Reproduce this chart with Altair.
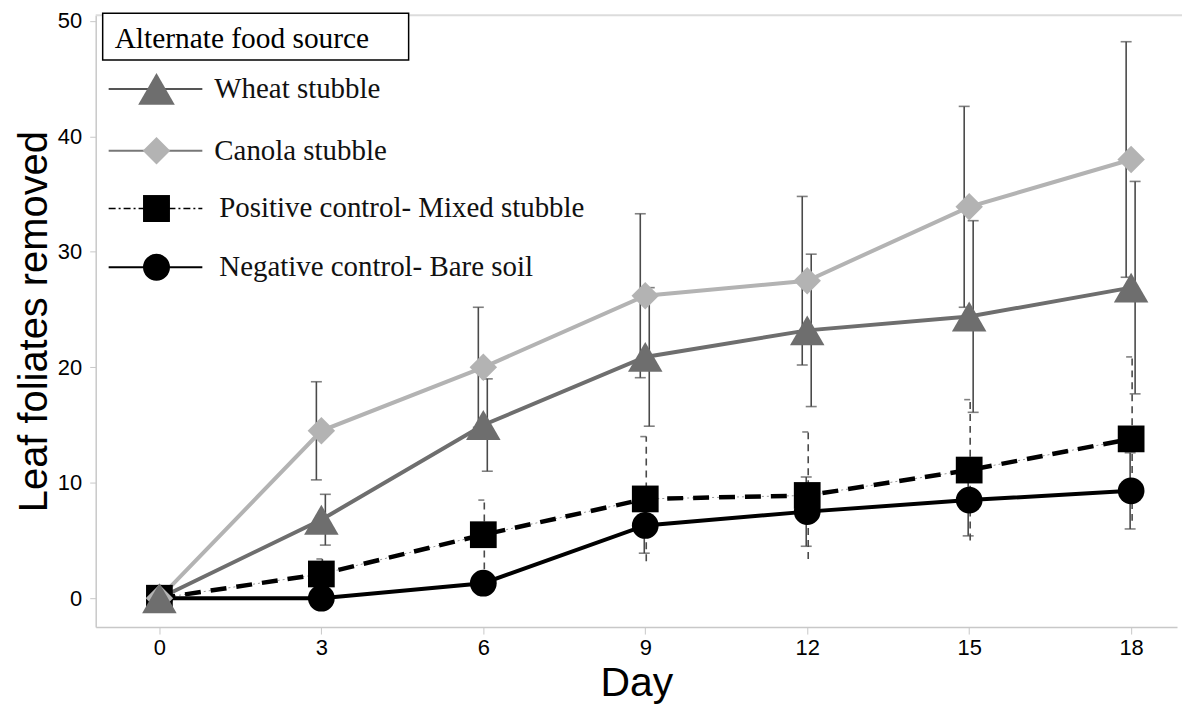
import altair as alt
import pandas as pd

days = [0, 3, 6, 9, 12, 15, 18]
series_names = ["Wheat stubble", "Canola stubble",
                "Positive control- Mixed stubble", "Negative control- Bare soil"]
wheat_mean = [0, 6.8, 15.0, 20.9, 23.2, 24.4, 26.9]
wheat_err = [0, 2.2, 4.0, 6.0, 6.6, 8.3, 9.2]
canola_mean = [0, 14.5, 20.0, 26.2, 27.5, 33.9, 38.0]
canola_err = [0, 4.25, 5.2, 7.1, 7.3, 8.7, 10.2]
pos_mean = [0, 2.1, 5.5, 8.6, 8.9, 11.1, 13.8]
pos_err = [0, 1.3, 3.0, 5.4, 5.5, 6.1, 7.1]
neg_mean = [0, 0, 1.3, 6.3, 7.5, 8.5, 9.3]
neg_err = [0, 0, 1.0, 2.4, 3.0, 3.1, 3.3]
y_ticks = [0, 10, 20, 30, 40, 50]
legend_title = "Alternate food source"
x_title = "Day"
y_title = "Leaf foliates removed"

means = [wheat_mean, canola_mean, pos_mean, neg_mean]
errs = [wheat_err, canola_err, pos_err, neg_err]
rows = []
for name, m, e in zip(series_names, means, errs):
    for d, mv, ev in zip(days, m, e):
        rows.append({"series": name, "day": d, "mean": mv, "err": ev,
                     "lo": mv - ev, "hi": mv + ev})
df = pd.DataFrame(rows)

W, H = 1085, 614
FONT = "Liberation Sans"
SERIF = "Liberation Serif"

xs = alt.Scale(domain=[-1.18, 18.85], nice=False, zero=False)
ys = alt.Scale(domain=[-2.5, 50.5], nice=False, zero=False)

X_AX = alt.Axis(values=days, grid=False, domainColor="#c8c8c8", domainWidth=1.5,
                tickColor="#c8c8c8", tickSize=7, labelPadding=4,
                labelFont=FONT, labelFontSize=22, labelColor="#000",
                titleFont=FONT, titleFontSize=41, titleFontWeight="normal",
                titleColor="#000", titlePadding=5)
Y_AX = alt.Axis(values=y_ticks, grid=False, domainColor="#c8c8c8", domainWidth=1.5,
                tickColor="#c8c8c8", tickSize=6, labelPadding=8,
                labelFont=FONT, labelFontSize=22, labelColor="#000",
                titleFont=FONT, titleFontSize=40, titleFontWeight="normal",
                titleColor="#000", titlePadding=3)

base = alt.Chart(df)


def sub(name):
    return base.transform_filter(alt.datum.series == name)


X = alt.X("day:Q", scale=xs, axis=X_AX, title=x_title)
Y = alt.Y("mean:Q", scale=ys, axis=Y_AX, title=y_title)
YLO = alt.Y("lo:Q", scale=ys, axis=Y_AX, title=y_title)
YHI = alt.Y("hi:Q", scale=ys, axis=Y_AX, title=y_title)

top_line = alt.Chart(pd.DataFrame({"a": [0]})).mark_rule(color="#dcdcdc", strokeWidth=2).encode(
    x=alt.value(0), x2=alt.value(W + 10), y=alt.value(0))

ERRC = "#4a4a4a"


def solid_err(name, off):
    s = sub(name).transform_filter(alt.datum.err > 0)
    r = s.mark_rule(color=ERRC, strokeWidth=1.6, xOffset=off).encode(
        x=X, y=YLO, y2="hi:Q")
    t1 = s.mark_tick(color=ERRC, thickness=1.6, size=11, orient="horizontal", xOffset=off).encode(
        x=X, y=YLO)
    t2 = s.mark_tick(color=ERRC, thickness=1.6, size=11, orient="horizontal", xOffset=off).encode(
        x=X, y=YHI)
    return [r, t1, t2]


def dashed_err(name, off):
    s = sub(name).transform_filter(alt.datum.err > 0)
    r = s.mark_rule(color=ERRC, strokeWidth=1.6, strokeDash=[7, 5], xOffset=off).encode(
        x=X, y=YLO, y2="hi:Q")
    t = s.mark_tick(color=ERRC, thickness=1.6, size=6, orient="horizontal", xOffset=off - 3).encode(
        x=X, y=YHI)
    return [r, t]


errs_layers = (solid_err(series_names[0], 4) + solid_err(series_names[1], -5)
               + dashed_err(series_names[2], 1) + solid_err(series_names[3], -1))

WHEAT_C = "#6e6e6e"
CANOLA_C = "#b3b3b3"

line_canola = sub(series_names[1]).mark_line(color=CANOLA_C, strokeWidth=4).encode(x=X, y=Y)
line_wheat = sub(series_names[0]).mark_line(color=WHEAT_C, strokeWidth=4).encode(x=X, y=Y)
line_pos_dot = sub(series_names[2]).mark_line(color="#999", strokeWidth=1, strokeDash=[2, 3]).encode(x=X, y=Y)
line_pos = sub(series_names[2]).mark_line(color="#000", strokeWidth=4.5, strokeDash=[16, 10]).encode(x=X, y=Y)
line_neg = sub(series_names[3]).mark_line(color="#000", strokeWidth=4).encode(x=X, y=Y)

pt_neg = sub(series_names[3]).mark_point(shape="circle", filled=True, color="#000", size=720, opacity=1).encode(x=X, y=Y)
pt_pos = sub(series_names[2]).mark_point(shape="square", filled=True, color="#000", size=720, opacity=1).encode(x=X, y=Y)
pt_canola = sub(series_names[1]).mark_point(shape="diamond", filled=True, color=CANOLA_C, size=760, opacity=1).encode(x=X, y=Y)
pt_wheat = sub(series_names[0]).mark_point(shape="triangle-up", filled=True, color=WHEAT_C, size=1200, opacity=1).encode(x=X, y=Y)

# Legend (decoration in pixel space)
one = pd.DataFrame({"a": [0]})
leg_box = alt.Chart(one).mark_rect(fill="white", stroke="#000", strokeWidth=1.5).encode(
    x=alt.value(7), x2=alt.value(314), y=alt.value(-2), y2=alt.value(45))
leg_title = alt.Chart(one).mark_text(text=legend_title, font=SERIF, fontSize=29.5, align="left",
                                     baseline="alphabetic", color="#000").encode(
    x=alt.value(19), y=alt.value(33))

leg_y = [74, 136, 194, 253]
leg_line_styles = [
    dict(color="#555", strokeWidth=2),
    dict(color="#777", strokeWidth=2),
    dict(color="#000", strokeWidth=1.5, strokeDash=[7, 3, 2, 3]),
    dict(color="#000", strokeWidth=2),
]
leg_symbols = [
    dict(shape="triangle-up", color=WHEAT_C, size=1350),
    dict(shape="diamond", color=CANOLA_C, size=760),
    dict(shape="square", color="#000", size=730),
    dict(shape="circle", color="#000", size=730),
]
leg_text_x = [119, 119, 124, 124]
leg_layers = [leg_box, leg_title]
for i, name in enumerate(series_names):
    leg_layers.append(alt.Chart(one).mark_rule(**leg_line_styles[i]).encode(
        x=alt.value(13), x2=alt.value(107), y=alt.value(leg_y[i])))
    leg_layers.append(alt.Chart(one).mark_point(filled=True, opacity=1, **leg_symbols[i]).encode(
        x=alt.value(61), y=alt.value(leg_y[i])))
    leg_layers.append(alt.Chart(one).mark_text(text=name, font=SERIF, fontSize=29, align="left",
                                               baseline="middle", color="#111").encode(
        x=alt.value(leg_text_x[i]), y=alt.value(leg_y[i])))

chart = alt.layer(
    top_line, *errs_layers,
    line_canola, line_wheat, line_pos_dot, line_pos, line_neg,
    pt_neg, pt_pos, pt_canola, pt_wheat,
    *leg_layers,
).properties(
    width=W, height=H,
    background="white",
    autosize=alt.AutoSizeParams(type="none"),
    padding={"left": 88, "top": 6, "right": 5, "bottom": 80},
).configure_view(stroke=None)

chart.save("out.html", embed_options={"renderer": "svg", "actions": False})
